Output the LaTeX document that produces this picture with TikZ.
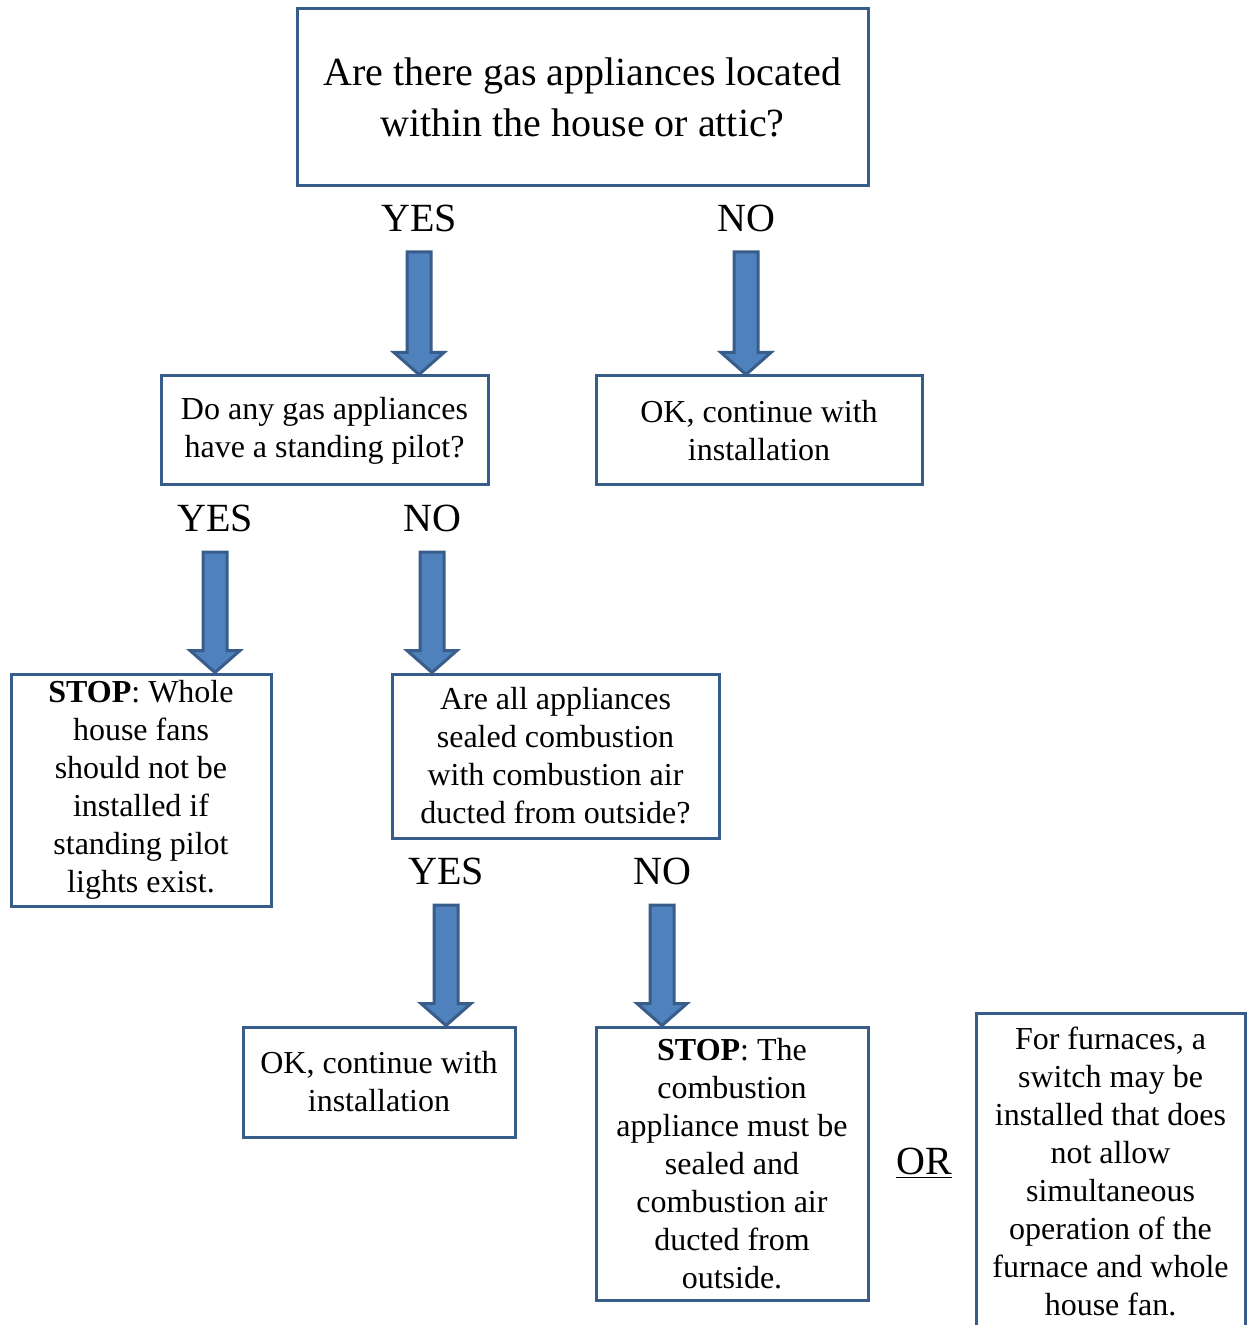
\documentclass[tikz,border=0pt]{standalone}
\usepackage{fontspec}
\setmainfont{Liberation Serif}
\usetikzlibrary{calc}
\definecolor{boxline}{RGB}{56,93,138}
\definecolor{arrowfill}{RGB}{79,129,189}

\tikzset{
  qbox/.style={draw=boxline, line width=1.5pt, align=center, inner sep=0pt,
    font=\fontsize{16pt}{19pt}\selectfont},
  answer/.style={inner sep=0pt, font=\fontsize{20pt}{24pt}\selectfont},
  blockarrow/.style={draw=boxline, fill=arrowfill, line width=1.5pt, line join=miter,
    to path={let \p1=(\tikztostart), \p2=(\tikztotarget) in
      (\x1-6pt,\y1) -- (\x1+6pt,\y1) -- (\x1+6pt,\y2+11pt) -- (\x1+12.5pt,\y2+11pt)
      -- (\x1,\y2) -- (\x1-12.5pt,\y2+11pt) -- (\x1-6pt,\y2+11pt) -- cycle}}
}

\begin{document}
\begin{tikzpicture}[x=0.5pt, y=-0.5pt]
\useasboundingbox (0,0) rectangle (1247,1325);

% First question
\node[qbox, minimum width=285.5pt, minimum height=88.5pt,
  font=\fontsize{20pt}{25.5pt}\selectfont] (gas) at (582.5,97.5)
  {Are there gas appliances located\\within the house or attic?};
\node[answer] (yes1) at (419,218) {YES};
\node[answer] (no1) at (746,218) {NO};

% Second level
\node[qbox, minimum width=163.5pt, minimum height=54.5pt] (pilot) at (324.5,430.5)
  {Do any gas appliances\\have a standing pilot?};
\node[qbox, minimum width=163pt, minimum height=54.5pt] (ok1) at (759,430.5)
  {OK, continue with\\installation};
\node[answer] (yes2) at (215,518) {YES};
\node[answer] (no2) at (432,518) {NO};

% Third level
\node[qbox, minimum width=130pt, minimum height=116pt] (stop1) at (141,790)
  {\textbf{STOP}: Whole\\house fans\\should not be\\installed if\\standing pilot\\lights exist.};
\node[qbox, minimum width=163.5pt, minimum height=82pt] (sealed) at (555.5,756)
  {Are all appliances\\sealed combustion\\with combustion air\\ducted from outside?};
\node[answer] (yes3) at (446,871) {YES};
\node[answer] (no3) at (662,871) {NO};

% Fourth level
\node[qbox, minimum width=136pt, minimum height=55pt] (ok2) at (379,1082)
  {OK, continue with\\installation};
\node[qbox, minimum width=136pt, minimum height=136.5pt] (stop2) at (732,1163.5)
  {\textbf{STOP}: The\\combustion\\appliance must be\\sealed and\\combustion air\\ducted from\\outside.};
\node[answer] (or) at (924,1163) {\underline{OR}};
\node[qbox, minimum width=134.5pt, minimum height=158pt] (switch) at (1110.5,1171)
  {For furnaces, a\\switch may be\\installed that does\\not allow\\simultaneous\\operation of the\\furnace and whole\\house fan.};

% Arrows
\draw[blockarrow] ([yshift=-17pt]yes1.center) to (yes1 |- pilot.north);
\draw[blockarrow] ([yshift=-17pt]no1.center) to (no1 |- ok1.north);
\draw[blockarrow] ([yshift=-17pt]yes2.center) to (yes2 |- stop1.north);
\draw[blockarrow] ([yshift=-17pt]no2.center) to (no2 |- sealed.north);
\draw[blockarrow] ([yshift=-17pt]yes3.center) to (yes3 |- ok2.north);
\draw[blockarrow] ([yshift=-17pt]no3.center) to (no3 |- stop2.north);
\end{tikzpicture}
\end{document}
